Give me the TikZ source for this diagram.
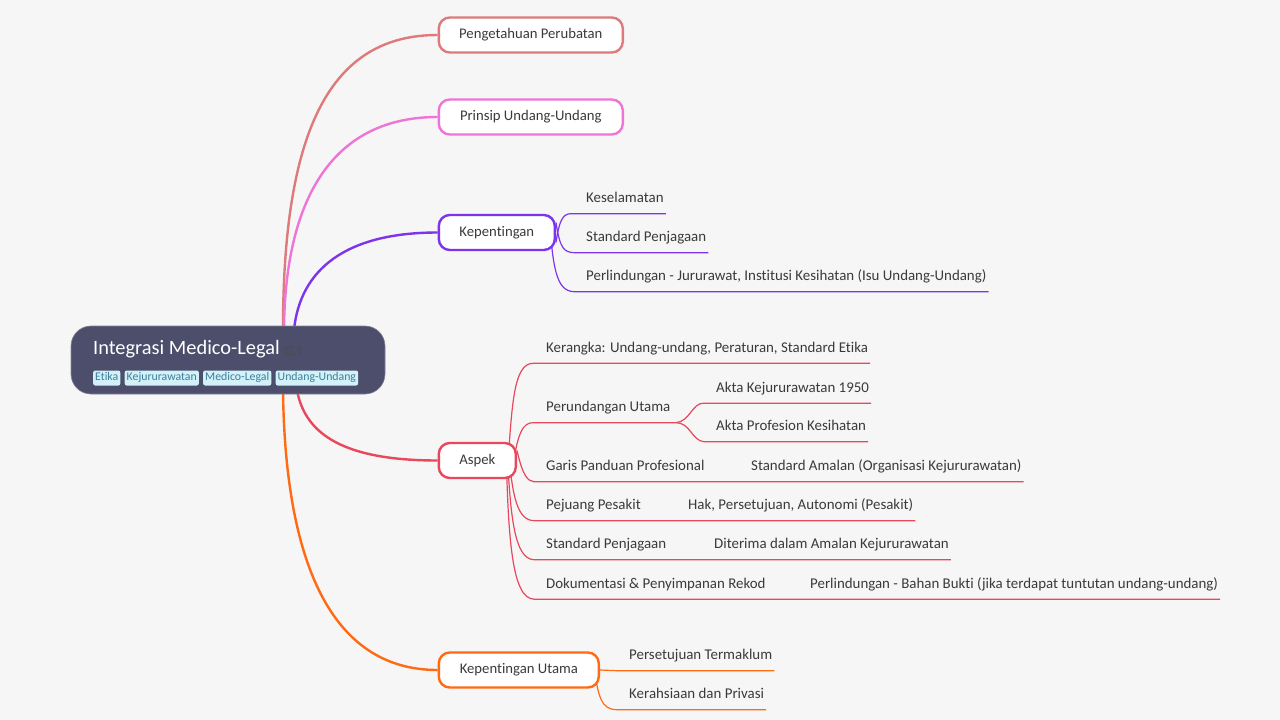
\documentclass[tikz,border=0pt]{standalone}
\usepackage{fontspec}
\setmainfont[Ligatures=CommonOff]{Carlito}
\newfontfamily\symfont{DejaVu Sans}
\usetikzlibrary{positioning,backgrounds}
\definecolor{pagebg}{HTML}{F6F6F6}
\definecolor{rootfill}{HTML}{4C4E6B}
\definecolor{tagfill}{HTML}{D3F1F8}
\definecolor{tagtext}{HTML}{3D7F99}
\definecolor{bodytext}{HTML}{3A3A3A}
\definecolor{salmon}{HTML}{DE7A7A}
\definecolor{pinkline}{HTML}{EE74D6}
\definecolor{purpleline}{HTML}{7C35EA}
\definecolor{redline}{HTML}{E8475C}
\definecolor{orangeline}{HTML}{FF6A13}
\tikzset{
  topic/.style={draw,line width=2.4pt,fill=white,rounded corners=11pt,minimum height=35pt,
    inner xsep=18pt,anchor=west,text=bodytext,font=\fontsize{14.7}{17}\selectfont},
  leaf/.style={anchor=base west,inner xsep=2pt,inner ysep=7pt,text height=11pt,text depth=4pt,
    text=bodytext,font=\fontsize{14.9}{17}\selectfont},
  tag/.style={fill=tagfill,text=tagtext,rounded corners=2pt,inner xsep=2pt,inner ysep=2pt,
    text height=8pt,text depth=3pt,font=\fontsize{11.8}{13}\selectfont},
  branch/.style={line width=2.4pt},
  twig/.style={line width=1.2pt},
}
\begin{document}
\begin{tikzpicture}[x=1pt,y=-1pt]
\useasboundingbox (0,0) rectangle (1280,720);

% root
\node[fill=rootfill,draw=rootfill!70!white,line width=.6pt,rounded corners=20pt,minimum width=314pt,minimum height=68pt] (root) at (228,360) {};
\node[anchor=base west,inner sep=0,text=white,font=\fontsize{20.4}{24}\selectfont] (title) at (93,354.5) {Integrasi Medico-Legal};
\node[anchor=west,inner sep=0,text=black!70,font=\symfont\fontsize{14}{16}\selectfont] (icons) at (283,350) {⚖⚕};
\node[tag,anchor=west] (etika) at (93,378) {Etika};
\node[tag,right=4pt of etika] (kejururawatan) {Kejururawatan};
\node[tag,right=4pt of kejururawatan] (medico) {Medico-Legal};
\node[tag,right=4pt of medico] (undang) {Undang-Undang};

% main topics
\node[topic,draw=salmon,minimum width=184pt] (pengetahuan) at (437.6,35) {Pengetahuan Perubatan};
\node[topic,draw=pinkline,minimum width=184pt] (prinsip) at (437.6,117) {Prinsip Undang-Undang};
\node[topic,draw=purpleline,minimum width=116pt] (kepentingan) at (437.6,232.5) {Kepentingan};
\node[topic,draw=redline,minimum width=77pt] (aspek) at (437.6,460.5) {Aspek};
\node[topic,draw=orangeline,minimum width=160pt] (utama) at (437.6,670) {Kepentingan Utama};

% kepentingan
\node[leaf] (keselamatan) at (584,202.5) {Keselamatan};
\node[leaf] (penjagaan) at (584,241.5) {Standard Penjagaan};
\node[leaf] (perlindungan) at (584,280.5) {Perlindungan - Jururawat, Institusi Kesihatan (Isu Undang-Undang)};

% aspek
\node[leaf] (kerangka) at (544,352) {Kerangka: Undang-undang, Peraturan, Standard Etika};
\node[leaf] (perundangan) at (544,411.5) {Perundangan Utama};
\node[leaf] (akta) at (714,392) {Akta Kejururawatan 1950};
\node[leaf] (profesion) at (714,430.5) {Akta Profesion Kesihatan};
\node[leaf] (garis) at (544,470.5) {Garis Panduan Profesional};
\node[leaf] (amalan) at (749,470.5) {Standard Amalan (Organisasi Kejururawatan)};
\node[leaf] (pejuang) at (544,509.5) {Pejuang Pesakit};
\node[leaf] (hak) at (686,509.5) {Hak, Persetujuan, Autonomi (Pesakit)};
\node[leaf] (standard) at (544,548.5) {Standard Penjagaan};
\node[leaf] (diterima) at (712,548.5) {Diterima dalam Amalan Kejururawatan};
\node[leaf] (dokumentasi) at (544,588) {Dokumentasi \& Penyimpanan Rekod};
\node[leaf] (bukti) at (808,588) {Perlindungan - Bahan Bukti (jika terdapat tuntutan undang-undang)};

% kepentingan utama
\node[leaf] (termaklum) at (627,659.5) {Persetujuan Termaklum};
\node[leaf] (privasi) at (627,698.5) {Kerahsiaan dan Privasi};

\begin{scope}[on background layer]
\fill[pagebg] (0,0) rectangle (1280,720);
\draw[branch,salmon] ([xshift=55pt]root.center) -- ++(0,-30) .. controls (283,130) and (330,35) .. (pengetahuan.west);
\draw[branch,pinkline] ([xshift=56pt]root.center) -- ++(0,-30) .. controls (285,195) and (335,117) .. (prinsip.west);
\draw[branch,purpleline] ([xshift=66pt]root.center) -- ++(0,-30) .. controls (300,270) and (345,232.5) .. (kepentingan.west);
\draw[branch,redline] ([xshift=69pt]root.center) -- ++(0,30) .. controls (305,435) and (345,460.5) .. (aspek.west);
\draw[branch,orangeline] ([xshift=55pt]root.center) -- ++(0,30) .. controls (285,560) and (330,670) .. (utama.west);

\draw[twig,purpleline] ([yshift=-10pt]kepentingan.east) .. controls (560,216) and (564,213) .. ([xshift=-10pt]keselamatan.south west) -- (keselamatan.south east);
\draw[twig,purpleline] ([yshift=10pt]kepentingan.east) .. controls (560,249) and (564,252) .. ([xshift=-10pt]penjagaan.south west) -- (penjagaan.south east);
\draw[twig,purpleline] ([xshift=-7pt,yshift=17pt]kepentingan.east) .. controls (553,268) and (556,291) .. ([xshift=-10pt]perlindungan.south west) -- (perlindungan.south east);

\draw[twig,redline] ([xshift=-10pt,yshift=-17pt]aspek.east) .. controls (512,405) and (513,362.5) .. ([xshift=-10pt]kerangka.south west) -- (kerangka.south east);
\draw[twig,redline] ([xshift=-5pt,yshift=-14pt]aspek.east) .. controls (517,432) and (523,422) .. ([xshift=-10pt]perundangan.south west) -- ([xshift=3pt]perundangan.south east);
\draw[twig,redline] ([xshift=3pt]perundangan.south east) .. controls (690,422) and (692,402.5) .. ([xshift=-10pt]akta.south west) -- (akta.south east);
\draw[twig,redline] ([xshift=3pt]perundangan.south east) .. controls (690,422) and (692,441) .. ([xshift=-10pt]profesion.south west) -- (profesion.south east);
\draw[twig,redline] ([yshift=10pt]aspek.east) .. controls (523,477) and (528,481) .. ([xshift=-10pt]garis.south west) -- (amalan.south east);
\draw[twig,redline] ([xshift=-9pt,yshift=17pt]aspek.east) .. controls (512,500) and (518,520) .. ([xshift=-10pt]pejuang.south west) -- (hak.south east);
\draw[twig,redline] ([xshift=-10pt,yshift=17pt]aspek.east) .. controls (510,520) and (515,559) .. ([xshift=-10pt]standard.south west) -- (diterima.south east);
\draw[twig,redline] ([xshift=-11pt,yshift=17pt]aspek.east) .. controls (508,540) and (512,598.5) .. ([xshift=-10pt]dokumentasi.south west) -- (bukti.south east);

\draw[twig,orangeline] (utama.east) -- ([xshift=-10pt]termaklum.south west) -- (termaklum.south east);
\draw[twig,orangeline] ([xshift=-7pt,yshift=17pt]utama.east) .. controls (597,700) and (602,709.5) .. ([xshift=-10pt]privasi.south west) -- (privasi.south east);
\end{scope}
\end{tikzpicture}
\end{document}
